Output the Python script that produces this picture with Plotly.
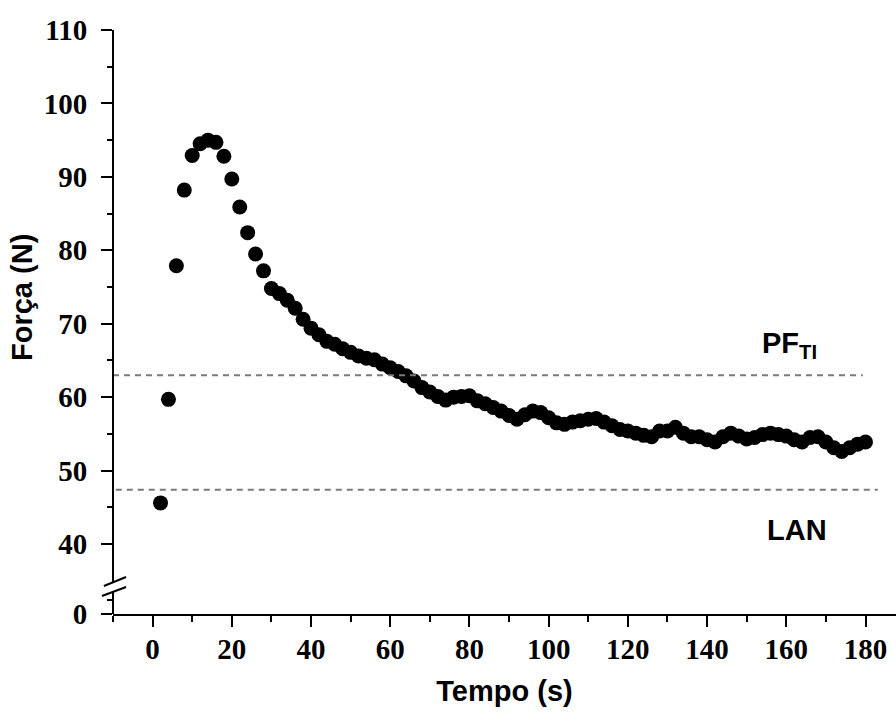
import plotly.graph_objects as go

# ---- data ----
tempo = list(range(2, 182, 2))
forca = [45.6, 59.7, 77.9, 88.2, 92.9, 94.5, 95.0, 94.7, 92.8, 89.7,
         85.9, 82.4, 79.5, 77.2, 74.8, 74.1, 73.2, 72.1, 70.6, 69.4,
         68.5, 67.6, 67.2, 66.6, 66.1, 65.6, 65.3, 65.1, 64.5, 64.0,
         63.5, 62.9, 62.2, 61.3, 60.7, 60.1, 59.6, 60.0, 60.1, 60.2,
         59.5, 59.1, 58.6, 58.1, 57.5, 57.0, 57.6, 58.1, 57.9, 57.2,
         56.5, 56.3, 56.6, 56.8, 57.0, 57.1, 56.6, 56.1, 55.6, 55.4,
         55.1, 54.8, 54.6, 55.4, 55.4, 55.9, 55.1, 54.6, 54.6, 54.2,
         53.9, 54.6, 55.1, 54.7, 54.3, 54.5, 54.9, 55.1, 54.9, 54.7,
         54.2, 53.9, 54.5, 54.6, 53.9, 53.1, 52.6, 53.1, 53.6, 53.9]

pf_ti = 63.0
lan = 47.4

x_ticks = list(range(0, 181, 20))
x_minor = list(range(-10, 191, 20))
y_ticks_main = list(range(40, 111, 10))
y_minor_main = list(range(45, 106, 10))

# axis-break geometry (layout constants)
X_MIN, X_MAX = -10, 187.7
Y_ZERO, Y_MAX = 30.47, 110
Y_MINOR_BELOW_BREAK = 32.4
BREAK_HI, BREAK_LO = 34.76, 33.48

def px(v):
    return (v - X_MIN) / (X_MAX - X_MIN)

def py(v):
    return (v - Y_ZERO) / (Y_MAX - Y_ZERO)

fig = go.Figure()
fig.add_trace(go.Scatter(
    x=tempo, y=forca, mode="markers",
    marker=dict(color="black", size=15, line=dict(width=0)),
    showlegend=False, cliponaxis=False,
))

shapes = []
# reference lines
shapes.append(dict(type="line", xref="x", yref="y", x0=-10, x1=179.3, y0=pf_ti, y1=pf_ti,
                   line=dict(color="#7a7a7a", width=2, dash="6px,5px")))
shapes.append(dict(type="line", xref="x", yref="y", x0=-9.3, x1=183.1, y0=lan, y1=lan,
                   line=dict(color="#7a7a7a", width=2, dash="6px,5px")))
# broken y axis line
shapes.append(dict(type="line", xref="paper", yref="paper", x0=0, x1=0,
                   y0=py(Y_MAX), y1=py(BREAK_HI), line=dict(color="black", width=2)))
shapes.append(dict(type="line", xref="paper", yref="paper", x0=0, x1=0,
                   y0=py(BREAK_LO), y1=py(Y_ZERO), line=dict(color="black", width=2)))
# break slashes
shapes.append(dict(type="line", xref="paper", yref="paper", x0=px(-12.3), x1=px(-6.7),
                   y0=py(34.28), y1=py(35.51), line=dict(color="black", width=2)))
shapes.append(dict(type="line", xref="paper", yref="paper", x0=px(-12.8), x1=px(-6.7),
                   y0=py(32.92), y1=py(34.14), line=dict(color="black", width=2)))

tick_font = dict(family="Liberation Serif", size=29, color="black", weight="bold")
title_font = dict(family="Liberation Sans", size=29, color="black", weight="bold")

fig.update_layout(
    width=896, height=727,
    margin=dict(l=113, r=0, t=30, b=113),
    plot_bgcolor="white", paper_bgcolor="white",
    shapes=shapes,
    xaxis=dict(
        range=[X_MIN, X_MAX], showgrid=False, zeroline=False,
        showline=True, linecolor="black", linewidth=2,
        tickmode="array", tickvals=x_ticks, ticktext=[str(v) for v in x_ticks],
        ticks="outside", ticklen=11, tickwidth=2, tickcolor="black",
        tickfont=tick_font, ticklabelstandoff=-3,
        minor=dict(tickvals=x_minor, ticks="outside", ticklen=6, tickwidth=2, tickcolor="black"),
        title=dict(text="Tempo (s)", font=title_font, standoff=17),
    ),
    yaxis=dict(
        range=[Y_ZERO, Y_MAX], showgrid=False, zeroline=False, showline=False,
        tickmode="array", tickvals=[Y_ZERO] + y_ticks_main,
        ticktext=["0"] + [str(v) for v in y_ticks_main],
        ticks="outside", ticklen=11, tickwidth=2, tickcolor="black",
        tickfont=tick_font, ticklabelstandoff=8,
        minor=dict(tickvals=[Y_MINOR_BELOW_BREAK] + y_minor_main, ticks="outside",
                   ticklen=5, tickwidth=2, tickcolor="black"),
    ),
    annotations=[
        dict(text="Força (N)", textangle=-90, xref="paper", yref="paper",
             x=px(-10) - 91 / 783, y=(614 - 298) / 584, xanchor="center", yanchor="middle",
             showarrow=False, font=title_font),
        dict(text="PF<sub>TI</sub>", xref="x", yref="y", x=160.9, y=67.1,
             xanchor="center", yanchor="middle", showarrow=False, font=title_font),
        dict(text="LAN", xref="x", yref="y", x=162.6, y=41.9,
             xanchor="center", yanchor="middle", showarrow=False, font=title_font),
    ],
)

fig.write_html("out.html")
